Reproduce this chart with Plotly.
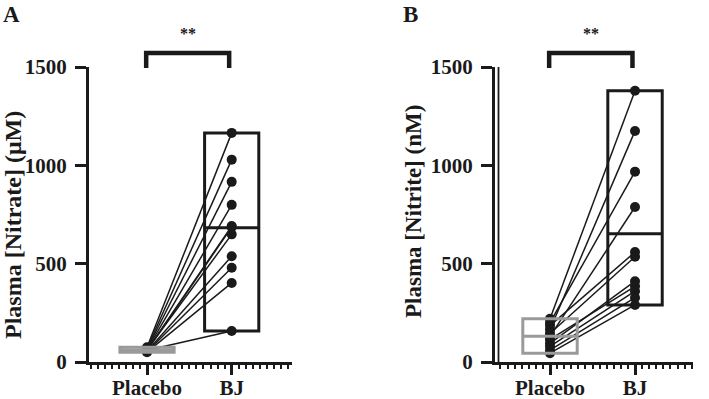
import numpy as np
import plotly.graph_objects as go

categories = ["Placebo", "BJ"]
y_ticks = [0, 500, 1000, 1500]
y_titles = ["Plasma [Nitrate] (μM)", "Plasma [Nitrite] (nM)"]

# Panel A: plasma nitrate (µM), paired per participant
nitrate_placebo = [75, 70, 66, 63, 60, 58, 62, 55, 52, 50, 60]
nitrate_bj = [1165, 1029, 916, 799, 691, 686, 649, 538, 479, 402, 158]

# Panel B: plasma nitrite (nM), paired per participant
nitrite_placebo = [220, 165, 200, 130, 185, 145, 95, 115, 80, 60, 45]
nitrite_bj = [1379, 1175, 968, 788, 559, 535, 411, 385, 360, 327, 290]

W, H = 709, 399
FONT = "Liberation Serif"
BLACK = "#1a1a1a"
GRAY = "#9a9a9a"

fig = go.Figure()


def paired(placebo, bj, xa, ya):
    xs, ys = [], []
    for p, b in zip(placebo, bj):
        xs += [0, 1, None]
        ys += [p, b, None]
    fig.add_trace(go.Scatter(
        x=xs, y=ys, mode="lines+markers", xaxis=xa, yaxis=ya,
        line=dict(color=BLACK, width=1.5),
        marker=dict(color=BLACK, size=10),
        showlegend=False, hoverinfo="skip"))


paired(nitrate_placebo, nitrate_bj, "x", "y")
paired(nitrite_placebo, nitrite_bj, "x2", "y2")

shapes = []
HALF = 0.32


def box(vals, xc, xref, yref, color, width):
    v = np.array(vals, dtype=float)
    shapes.append(dict(type="rect", xref=xref, yref=yref,
                       x0=xc - HALF, x1=xc + HALF, y0=v.min(), y1=v.max(),
                       line=dict(color=color, width=width), layer="above"))
    shapes.append(dict(type="line", xref=xref, yref=yref,
                       x0=xc - HALF, x1=xc + HALF, y0=v.mean(), y1=v.mean(),
                       line=dict(color=color, width=width), layer="above"))


box(nitrate_placebo, 0, "x", "y", GRAY, 3)
box(nitrate_bj, 1, "x", "y", BLACK, 3)
box(nitrite_placebo, 0, "x2", "y2", GRAY, 3)
box(nitrite_bj, 1, "x2", "y2", BLACK, 3)

# significance brackets
for xr in ["x", "x2"]:
    shapes.append(dict(type="path", xref=xr, yref="paper",
                       path="M -0.01,{b} L -0.01,{t} L 0.97,{t} L 0.97,{b}".format(
                           b=(H - 68) / H, t=(H - 53) / H),
                       line=dict(color=BLACK, width=4.5)))

ydom = [(H - 362) / H, (H - 67) / H]

# second line of the double y-axis in panel B
shapes.append(dict(type="line", xref="paper", yref="paper",
                   x0=498.5 / W, x1=498.5 / W, y0=ydom[0], y1=ydom[1],
                   line=dict(color=BLACK, width=1.8)))

fig.update_layout(shapes=shapes)

tickfont = dict(family=FONT, size=21, color=BLACK, weight="bold")

xcommon = dict(tickmode="array", tickvals=[0, 1], ticktext=categories,
               showline=True, linecolor=BLACK, linewidth=2.5,
               ticks="outside", ticklen=10, tickwidth=3, tickcolor=BLACK,
               tickfont=tickfont, showgrid=False, zeroline=False,
               automargin=False, ticklabelstandoff=-5,
               minor=dict(ticks="outside", ticklen=4, tickwidth=1.5,
                          tickcolor=BLACK, dtick=1 / 12, tick0=0),
               fixedrange=True)
ycommon = dict(range=[0, 1500], tickmode="array", tickvals=y_ticks,
               showline=True, linecolor=BLACK, linewidth=3,
               ticks="outside", ticklen=11, tickwidth=3, tickcolor=BLACK,
               tickfont=tickfont, showgrid=False, zeroline=False,
               automargin=False, ticklabelstandoff=4,
               domain=ydom, fixedrange=True)

fig.update_layout(
    xaxis=dict(xcommon, domain=[89 / W, 292 / W], range=[-0.685, 1.712],
               anchor="y"),
    yaxis=dict(ycommon, anchor="x"),
    xaxis2=dict(xcommon, domain=[495 / W, 693 / W], range=[-0.647, 1.682],
                anchor="y2"),
    yaxis2=dict(ycommon, anchor="x2"),
)

# y-axis titles
for txt, xc, yc, sz in [(y_titles[0], 13, 225, 24), (y_titles[1], 413, 212, 23)]:
    fig.add_annotation(xref="paper", yref="paper", x=xc / W, y=(H - yc) / H,
                       text=txt, textangle=-90, showarrow=False,
                       xanchor="center", yanchor="middle",
                       font=dict(family=FONT, size=sz, color=BLACK,
                                 weight="bold"))

annots = [
    dict(text="A", x=1 / W, y=(H - 14) / H),
    dict(text="B", x=401 / W, y=(H - 14) / H),
]
for a in annots:
    fig.add_annotation(xref="paper", yref="paper", yanchor="middle",
                       showarrow=False, text=a["text"], x=a["x"], y=a["y"],
                       xanchor="left",
                       font=dict(family=FONT, size=23, color=BLACK,
                                 weight="bold"))

for xr in ["x", "x2"]:
    fig.add_annotation(xref=xr, yref="paper", x=0.48, y=(H - 33) / H,
                       text="**", showarrow=False, yanchor="middle",
                       font=dict(family=FONT, size=16, color=BLACK,
                                 weight="bold"))

fig.update_layout(
    width=W, height=H, margin=dict(l=0, r=0, t=0, b=0),
    paper_bgcolor="white", plot_bgcolor="white", showlegend=False,
)

fig.write_html("out.html", config={"displayModeBar": False})
